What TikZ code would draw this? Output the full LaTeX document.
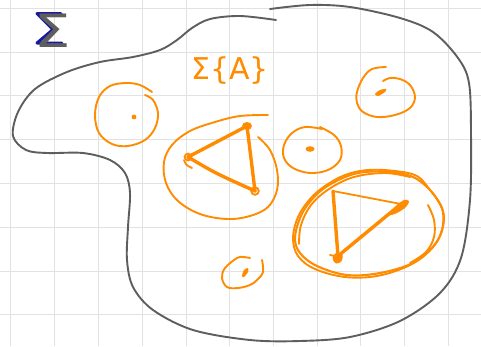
\documentclass[tikz,border=0pt]{standalone}
\usepackage{fontspec}
\newfontfamily\hand{DejaVu Sans}
\definecolor{orng}{HTML}{FF8C00}
\definecolor{blobgray}{HTML}{5E5E5E}
\definecolor{gridc}{HTML}{E2E2E2}
\definecolor{sigblue}{HTML}{1A1AA0}
\begin{document}
\begin{tikzpicture}[x=1pt,y=-1pt,
  gridline/.style={draw=gridc, line width=0.9pt},
  blob/.style={draw=blobgray, line width=1.9pt, line cap=round, line join=round},
  loopline/.style={draw=orng, line width=1.9pt, line cap=round, line join=round},
  thickedge/.style={draw=orng, line width=3.4pt, line cap=round},
  thinedge/.style={draw=orng, line width=1.8pt, line cap=round},
  vmark/.style={fill=orng, draw=orng, line width=1pt, line join=round}]
\useasboundingbox (0,0) rectangle (481,346);
\fill[white] (0,0) rectangle (481,346);
% grid paper
\foreach \gx in {10,54,98,142,186,229,273,317,360,404,448} \draw[gridline] (\gx,0) -- (\gx,346);
\foreach \gy in {8,52,95,139,183,227,271,314} \draw[gridline] (0,\gy) -- (481,\gy);
% outer region
\draw[blob] plot[smooth, tension=0.55] coordinates {(276,20) (240,16) (210,19) (192,28) (177,40) (160,50) (133,57) (100,62) (67,72) (35,89) (18,112) (13,136) (26,150) (47,153) (83,153) (110,160) (125,173) (130,193) (128,227) (127,260) (133,287) (153,310) (193,330) (250,340) (300,341) (350,337) (400,321) (440,293) (461,258) (470,200) (471,133) (469,83) (458,58) (433,32) (400,18) (350,7) (310,5) (270,9)};
% labels
\draw[draw=sigblue, line width=3pt, line cap=round, line join=round] (61,13.5) -- (37,13.5) -- (53,29.5) -- (37,43) -- (62,43);
\node[text=blobgray, xscale=1.25, font=\hand\fontsize{46}{46}\selectfont] (sig) at (53,30.5) {Σ};
\node[text=orng, font=\hand\fontsize{30}{30}\selectfont] (sigA) at (230,71) {Σ\{A\}};
% loop 1 (left singleton)
\draw[loopline] plot[smooth, tension=0.6] coordinates {(152,92) (140,85) (126,83) (110,86) (99,97) (95,115) (99,133) (112,144) (128,146) (145,140) (155,128) (158,113) (153,100) (145,95)};
\fill[orng] (134,117) circle[radius=2.4];
% loop 2 (triangle cluster)
\draw[loopline] plot[smooth, tension=0.6] coordinates {(258,137) (270,150) (277,170) (277,190) (268,207) (250,216) (227,219) (200,214) (178,201) (166,183) (164,162) (172,145) (190,131) (215,122) (240,116) (268,115)};
\coordinate (ta) at (188,157);
\coordinate (tb) at (247,126);
\coordinate (tc) at (255,191);
\draw[thickedge] (ta) -- (tb);
\draw[thickedge] (tb) -- (tc);
\draw[thickedge] (ta) .. controls (215,173) .. (tc);
\fill[orng] (tb) ellipse[x radius=5, y radius=4];
\draw[thinedge] (ta) circle[radius=3.4];
\draw[thinedge] (184,160) .. controls (186,165) .. (192,168);
\draw[thinedge] (tc) circle[radius=3.8];
% loop 3 (middle singleton)
\draw[loopline] plot[smooth, tension=0.6] coordinates {(322,129) (305,127) (292,133) (284,145) (284,158) (293,168) (310,173) (328,170) (340,160) (341,146) (334,135) (320,127)};
\fill[orng] (310,149) ellipse[x radius=4.5, y radius=2.8];
% loop 4 (top right singleton)
\draw[loopline] plot[smooth, tension=0.6] coordinates {(386,67) (372,69) (363,78) (357,92) (357,103) (363,112) (377,117) (395,115) (410,108) (415,97) (410,85) (400,79) (390,78) (383,81)};
\fill[orng] plot[smooth cycle] coordinates {(375,94) (380,90) (386,89) (385,92) (378,96)};
% loop 5 (bottom singleton)
\draw[loopline] plot[smooth, tension=0.6] coordinates {(262,260) (263,272) (257,280) (250,285) (238,288) (227,287) (222,278) (225,268) (237,258) (243,257) (250,258)};
\fill[orng] plot[smooth cycle] coordinates {(242,276) (244,270) (248,268) (248,272) (244,277)};
% loop 6 (second triangle cluster, drawn over several times)
\draw[loopline, line width=2.1pt] plot[smooth cycle, tension=0.6] coordinates {(323,189) (345,177) (365,172) (392,172) (413,177) (427,187) (437,199) (443,212) (442,230) (433,247) (413,263) (380,273) (347,275) (317,266) (300,253) (295,238) (300,218) (309,203)};
\draw[loopline] plot[smooth cycle, tension=0.6] coordinates {(325,186) (345,175) (368,170) (395,171) (417,176) (430,190) (440,204) (444,218) (440,236) (428,252) (408,266) (377,276) (345,277) (315,269) (298,256) (293,238) (298,217) (310,199)};
\draw[loopline] plot[smooth, tension=0.6] coordinates {(299,244) (301,225) (311,205) (329,189) (354,177) (385,173) (410,177)};
\draw[loopline] plot[smooth, tension=0.6] coordinates {(428,205) (434,220) (434,237) (426,252) (410,263)};
\coordinate (ua) at (333,191);
\coordinate (ub) at (401,204);
\coordinate (uc) at (338,256);
\draw[thinedge] (ua) -- (ub);
\draw[thickedge] (ua) -- (uc);
\draw[thickedge] (uc) -- (ub);
\fill[orng] plot[smooth cycle] coordinates {(389,215) (396,206) (404,200) (409,201) (406,207) (397,213)};
\draw[vmark] plot[smooth cycle] coordinates {(333,258) (337,253) (342,255) (341,261) (336,263)};
\draw[thinedge] (330,255) -- (335,256);
\end{tikzpicture}
\end{document}
